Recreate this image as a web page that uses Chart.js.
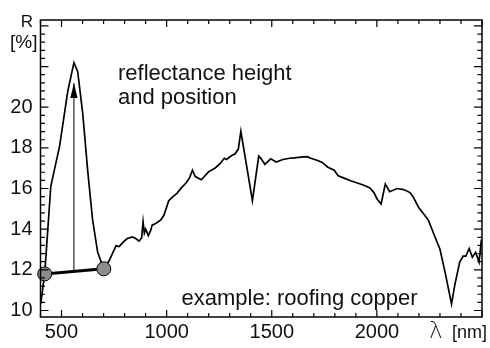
<!DOCTYPE html>
<html>
<head>
<meta charset="utf-8">
<script src="https://cdn.jsdelivr.net/npm/chart.js@4.4.1/dist/chart.umd.min.js"></script>
<style>
  html, body { margin: 0; padding: 0; background: #fff; }
  canvas { display: block; }
</style>
</head>
<body>
<canvas id="chart" width="490" height="348"></canvas>
<script>
// spectrum of roofing copper
const wavelengths = [401, 420, 449, 491, 530, 559, 577, 601, 625, 648, 672, 701, 727, 759, 774, 798, 813, 837, 853, 869,
  881, 888, 894, 900, 913, 924, 931, 950, 971, 987, 1010, 1026, 1049, 1070, 1092, 1108, 1123, 1136, 1165, 1199,
  1231, 1254, 1274, 1285, 1309, 1325, 1341, 1353, 1380, 1408, 1438, 1450, 1467, 1495, 1521, 1553, 1585, 1608, 1639, 1668,
  1686, 1718, 1742, 1765, 1797, 1816, 1844, 1875, 1907, 1938, 1967, 1986, 2001, 2020, 2040, 2061, 2096, 2127, 2158, 2174,
  2198, 2222, 2245, 2269, 2300, 2324, 2355, 2371, 2394, 2410, 2423, 2439, 2454, 2470, 2486, 2497];
const reflectance = [10.32, 11.80, 16.11, 18.10, 20.80, 22.19, 21.75, 19.68, 16.82, 14.44, 12.86, 12.05, 12.46, 13.18, 13.14, 13.41, 13.54, 13.62, 13.54, 13.41,
  13.57, 14.37, 13.81, 14.00, 13.68, 13.94, 14.20, 14.29, 14.44, 14.68, 15.40, 15.56, 15.76, 16.03, 16.27, 16.51, 16.90, 16.59, 16.43, 16.82,
  17.01, 17.22, 17.49, 17.43, 17.62, 17.70, 17.94, 18.81, 17.14, 15.40, 17.59, 17.46, 17.19, 17.46, 17.30, 17.43, 17.49, 17.51, 17.54, 17.57,
  17.49, 17.38, 17.27, 17.06, 16.90, 16.63, 16.51, 16.38, 16.27, 16.16, 16.03, 15.80, 15.48, 15.24, 16.22, 15.84, 16.00, 15.95, 15.80, 15.56,
  15.08, 14.76, 14.44, 13.81, 13.01, 11.90, 10.32, 11.27, 12.38, 12.67, 12.67, 13.05, 12.62, 12.86, 12.38, 13.49];

// continuum line between the two shoulders of the peak
const baselineX = [420, 701];
const baselineY = [11.80, 12.05];

// arrow marking the reflectance height at the peak position
const arrowX = 559;
const arrowFrom = 11.92;
const arrowTo = 21.19;

const xTickLabels = [500, 1000, 1500, 2000];
const yTickLabels = [10, 12, 14, 16, 18, 20];

const FONT = '"Liberation Sans", Arial, Helvetica, sans-serif';

const spectrum = wavelengths.map((w, i) => ({ x: w, y: reflectance[i] }));
const baseline = baselineX.map((w, i) => ({ x: w, y: baselineY[i] }));
const arrow = [{ x: arrowX, y: arrowFrom }, { x: arrowX, y: arrowTo }];

// frame, inward ticks, arrow head and the text annotations
const framePlugin = {
  id: 'frame',
  afterDatasetsDraw(chart) {
    const { ctx, chartArea: a, scales: { x, y } } = chart;
    ctx.save();
    ctx.strokeStyle = '#000';
    ctx.lineWidth = 1.2;
    ctx.beginPath();
    for (let v = 400; v <= 2500; v += 100) {
      const px = x.getPixelForValue(v);
      const len = v % 500 === 0 ? 7 : 4;
      ctx.moveTo(px, a.bottom); ctx.lineTo(px, a.bottom - len);
      ctx.moveTo(px, a.top); ctx.lineTo(px, a.top + len);
    }
    for (let i = 0; i <= 35; i++) {
      const py = y.getPixelForValue(10 + i * 0.4);
      if (py < a.top) break;
      const len = i % 5 === 0 ? 8 : 4.5;
      ctx.moveTo(a.left, py); ctx.lineTo(a.left + len, py);
      ctx.moveTo(a.right, py); ctx.lineTo(a.right - len, py);
    }
    ctx.stroke();
    ctx.lineWidth = 1.5;
    ctx.strokeRect(a.left, a.top, a.right - a.left, a.bottom - a.top);

    // arrow head
    const tx = x.getPixelForValue(arrowX);
    const ty = y.getPixelForValue(arrowTo);
    ctx.fillStyle = '#000';
    ctx.beginPath();
    ctx.moveTo(tx, ty);
    ctx.lineTo(tx - 3.6, ty + 15);
    ctx.lineTo(tx + 3.6, ty + 15);
    ctx.closePath();
    ctx.fill();

    ctx.fillStyle = '#111';
    ctx.textBaseline = 'alphabetic';
    ctx.textAlign = 'left';
    ctx.font = '22px ' + FONT;
    ctx.fillText('reflectance height', 118, 79.5);
    ctx.fillText('and position', 118, 103.5);
    ctx.fillText('example: roofing copper', 181.5, 305);

    ctx.textAlign = 'right';
    ctx.font = '17px ' + FONT;
    ctx.fillText('R', 33, 26.5);
    ctx.font = '19px ' + FONT;
    ctx.fillText('[%]', 37.5, 48);

    ctx.textAlign = 'left';
    ctx.font = '200 23px "DejaVu Sans", sans-serif';
    ctx.fillText('λ', 429, 338);
    ctx.font = '18px ' + FONT;
    ctx.fillText('[nm]', 452, 338);
    ctx.restore();
  }
};

const chart = new Chart(document.getElementById('chart'), {
  type: 'line',
  data: {
    datasets: [
      {
        label: 'continuum',
        data: baseline,
        borderColor: '#000',
        borderWidth: 3,
        pointRadius: 7,
        pointBackgroundColor: '#8c8c8c',
        pointBorderColor: '#000',
        pointBorderWidth: 1,
        clip: false,
        order: 0,
      },
      {
        label: 'height',
        data: arrow,
        borderColor: '#000',
        borderWidth: 1,
        pointRadius: 0,
        order: 1,
      },
      {
        label: 'spectrum',
        data: spectrum,
        borderColor: '#000',
        borderWidth: 1.7,
        pointRadius: 0,
        tension: 0,
        order: 2,
      },
    ],
  },
  options: {
    responsive: false,
    animation: false,
    events: [],
    layout: { padding: { top: 10, right: 4, left: 0, bottom: 0 } },
    plugins: { legend: { display: false }, tooltip: { enabled: false } },
    scales: {
      x: {
        type: 'linear',
        min: 400,
        max: 2500,
        grid: { display: false, drawTicks: false },
        border: { display: false },
        afterBuildTicks: (s) => { s.ticks = xTickLabels.map((v) => ({ value: v })); },
        afterFit: (s) => { s.height = 31; },
        ticks: {
          padding: 3, maxRotation: 0, autoSkip: false, color: '#111',
          font: { size: 20, family: FONT },
          callback: (v) => String(v),
        },
      },
      y: {
        min: 9.68,
        max: 24.29,
        grid: { display: false, drawTicks: false },
        border: { display: false },
        afterBuildTicks: (s) => { s.ticks = yTickLabels.map((v) => ({ value: v })); },
        afterFit: (s) => { s.width = 40.5; },
        ticks: {
          padding: 8, color: '#111',
          font: { size: 20, family: FONT },
          callback: (v) => String(v),
        },
      },
    },
  },
  plugins: [framePlugin],
});
</script>
</body>
</html>
